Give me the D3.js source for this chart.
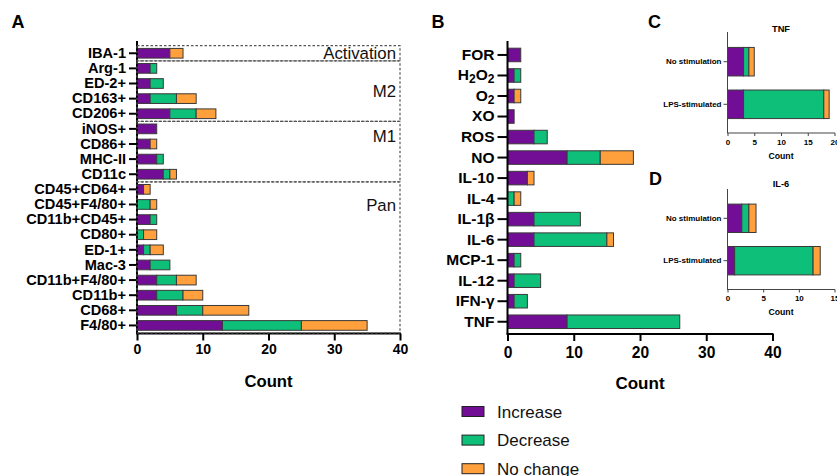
<!DOCTYPE html>
<html><head><meta charset="utf-8">
<script src="https://cdn.jsdelivr.net/npm/d3@7"></script>
<style>body{margin:0;background:#fff}svg{display:block;font-family:"Liberation Sans",Arial,sans-serif}</style>
</head><body><svg id="c" width="837" height="476"></svg>
<script>
// ---- data ----
const seriesKeys = ["Increase","Decrease","No change"];
const colors = ["#720d96","#0dbf78","#ffa03c"];

const markersA = ["IBA-1","Arg-1","ED-2+","CD163+","CD206+","iNOS+","CD86+","MHC-II","CD11c","CD45+CD64+","CD45+F4/80+","CD11b+CD45+","CD80+","ED-1+","Mac-3","CD11b+F4/80+","CD11b+","CD68+","F4/80+"];
const increaseA = [5,2,2,2,5,3,2,3,4,1,0,2,0,1,2,3,3,6,13];
const decreaseA = [0,1,2,4,4,0,0,1,1,0,2,1,1,1,3,3,4,4,12];
const nochangeA = [2,0,0,3,3,0,1,0,1,1,1,0,2,2,0,3,3,7,10];
const groupsA = [
  {name:"Activation", first:"IBA-1", last:"IBA-1", at:0},
  {name:"M2", first:"Arg-1", last:"CD206+", at:2.5},
  {name:"M1", first:"iNOS+", last:"CD11c", at:5.5},
  {name:"Pan", first:"CD45+CD64+", last:"F4/80+", at:10}
];
const ticksA = [0,10,20,30,40];

const markersB = ["FOR","H2O2","O2","XO","ROS","NO","IL-10","IL-4","IL-1β","IL-6","MCP-1","IL-12","IFN-γ","TNF"];
const increaseB = [2,1,1,1,4,9,3,0,4,4,1,1,1,9];
const decreaseB = [0,1,0,0,2,5,0,1,7,11,1,4,2,17];
const nochangeB = [0,0,1,0,0,5,1,1,0,1,0,0,0,0];
const ticksB = [0,10,20,30,40];

const condsCD = ["No stimulation","LPS-stimulated"];
const increaseC = [3,3], decreaseC = [1,15], nochangeC = [1,1];
const ticksC = [0,5,10,15,20];
const increaseD = [2,1], decreaseD = [1,11], nochangeD = [1,1];
const ticksD = [0,5,10,15];

// ---- helpers ----
const svg = d3.select("#c");
function rows(cats, a, b, c){ return cats.map((k,i)=>({cat:k,"Increase":a[i],"Decrease":b[i],"No change":c[i]})); }
const stack = d3.stack().keys(seriesKeys);

function panel(o){
  const g = svg.append("g");
  const data = rows(o.cats,o.inc,o.dec,o.noc);
  const x = d3.scaleLinear().domain([0,d3.max(o.ticks)]).range([o.x0,o.x1]);
  const y = d3.scaleBand().domain(o.cats).range([o.y0,o.y1]).paddingInner(o.pad).paddingOuter(o.pad/2);
  const layers = stack(data);
  g.selectAll("g.l").data(layers).join("g").attr("fill",(d,i)=>colors[i])
    .selectAll("rect").data(d=>d.filter(s=>s[1]>s[0])).join("rect")
    .attr("x",d=>x(d[0])).attr("width",d=>x(d[1])-x(d[0]))
    .attr("y",d=>y(d.data.cat)).attr("height",y.bandwidth())
    .attr("stroke","#3a3a3a").attr("stroke-width",o.sw||1);
  const ac = o.ac || "#000";
  const ya = g.append("g").attr("transform",`translate(${o.x0},0)`)
    .call(d3.axisLeft(y).tickSize(o.tick).tickPadding(o.tpad).tickFormat(o.fmt?()=>"":d=>d));
  ya.select(".domain").attr("d",`M0,${o.axTop}V${o.axBot}`).attr("stroke",ac).attr("stroke-width",o.aw);
  ya.selectAll(".tick line").attr("stroke",ac).attr("stroke-width",o.aw);
  ya.selectAll(".tick text").attr("font-size",o.lfs).attr("font-weight","bold").attr("fill","#000").attr("font-family","Liberation Sans, Arial");
  if(o.fmt){ ya.selectAll(".tick text").each(function(d){ o.fmt(d3.select(this),d); }); }
  const xa = g.append("g").attr("transform",`translate(0,${o.axBot})`)
    .call(d3.axisBottom(x).tickValues(o.ticks).tickSize(o.xtick).tickPadding(o.xtpad).tickSizeOuter(0));
  xa.select(".domain").attr("stroke",ac).attr("stroke-width",o.aw).attr("d",`M${o.x0-o.aw/2},0H${o.x1+o.aw/2}`);
  xa.selectAll(".tick line").attr("stroke",ac).attr("stroke-width",o.aw);
  xa.selectAll(".tick text").attr("font-size",o.tfs).attr("font-weight","bold").attr("fill","#000").attr("font-family","Liberation Sans, Arial");
  g.append("text").attr("x",(o.x0+o.x1)/2).attr("y",o.cy).attr("text-anchor","middle")
    .attr("font-size",o.cfs).attr("font-weight","bold").text("Count");
  return {g,x,y};
}

function letter(t,x,y){ svg.append("text").attr("x",x).attr("y",y).attr("font-size","18px").attr("font-weight","bold").text(t); }

// Panel A
const A = panel({cats:markersA,inc:increaseA,dec:decreaseA,noc:nochangeA,ticks:ticksA,
  x0:137,x1:400,y0:45.7,y1:333,pad:0.36,tick:8,tpad:3,aw:2,axTop:41,axBot:333.5,
  lfs:"14.6px",xtick:7,xtpad:4,tfs:"14px",cy:387,cfs:"16.7px"});
const stepA = A.y.step(), offA = (stepA - A.y.bandwidth())/2;
groupsA.forEach(gr=>{
  const top = A.y(gr.first)-offA, bot = A.y(gr.last)+A.y.bandwidth()+offA;
  A.g.append("rect").attr("x",A.x(0)).attr("y",top).attr("width",A.x(40)-A.x(0)).attr("height",bot-top)
    .attr("fill","none").attr("stroke","#555").attr("stroke-width",1.2).attr("stroke-dasharray","2.5,2");
  A.g.append("text").attr("x",A.x(40)-4).attr("y",A.y(markersA[0])+A.y.bandwidth()/2+gr.at*stepA)
    .attr("dy","0.36em").attr("text-anchor","end").attr("font-size","16.8px").attr("fill","#111").text(gr.name);
});
letter("A",11.5,28.3);

// Panel B
function chem(sel,d){
  if(d==="H2O2"||d==="O2"){
    sel.text(null);
    const parts = d==="H2O2"?[["H",0],["2",1],["O",0],["2",1]]:[["O",0],["2",1]];
    parts.forEach(p=>{ const t=sel.append("tspan").text(p[0]);
      if(p[1]) t.attr("baseline-shift","-25%").attr("font-size","12px"); });
  } else sel.text(d);
}
const B = panel({cats:markersB,inc:increaseB,dec:decreaseB,noc:nochangeB,ticks:ticksB,
  x0:507.5,x1:772.5,y0:44.7,y1:332,pad:0.34,tick:10,tpad:3,aw:2,axTop:41,axBot:334,
  lfs:"15.5px",xtick:7,xtpad:6,tfs:"15.6px",cy:389,cfs:"17px",fmt:chem});
letter("B",431.5,28.3);

// Panel C
const C = panel({cats:condsCD,inc:increaseC,dec:decreaseC,noc:nochangeC,ticks:ticksC,
  x0:727.5,x1:834.5,y0:40.4,y1:125.6,pad:0.33,tick:4,tpad:2,aw:1,axTop:32,axBot:133,ac:"#444",
  lfs:"8px",xtick:3,xtpad:3,tfs:"8px",cy:159,cfs:"8.7px"});
svg.append("text").attr("x",781).attr("y",31.7).attr("text-anchor","middle").attr("font-size","9.3px").attr("font-weight","bold").text("TNF");
letter("C",648,28.3);

// Panel D
const D = panel({cats:condsCD,inc:increaseD,dec:decreaseD,noc:nochangeD,ticks:ticksD,
  x0:727.5,x1:834.5,y0:197.1,y1:281.9,pad:0.33,tick:4,tpad:2,aw:1,axTop:189,axBot:289.5,ac:"#444",
  lfs:"8px",xtick:3,xtpad:3,tfs:"8px",cy:315,cfs:"8.7px"});
svg.append("text").attr("x",781).attr("y",186.7).attr("text-anchor","middle").attr("font-size","9.3px").attr("font-weight","bold").text("IL-6");
letter("D",649,185);

// Legend
const leg = svg.append("g");
seriesKeys.forEach((k,i)=>{
  const cy = 411.5 + i*28.6;
  leg.append("rect").attr("x",462).attr("y",cy-5).attr("width",22).attr("height",10)
    .attr("fill",colors[i]).attr("stroke","#222").attr("stroke-width",1);
  leg.append("text").attr("x",497).attr("y",cy).attr("dy","0.36em").attr("font-size","17px").attr("fill","#111").text(k);
});
</script></body></html>
